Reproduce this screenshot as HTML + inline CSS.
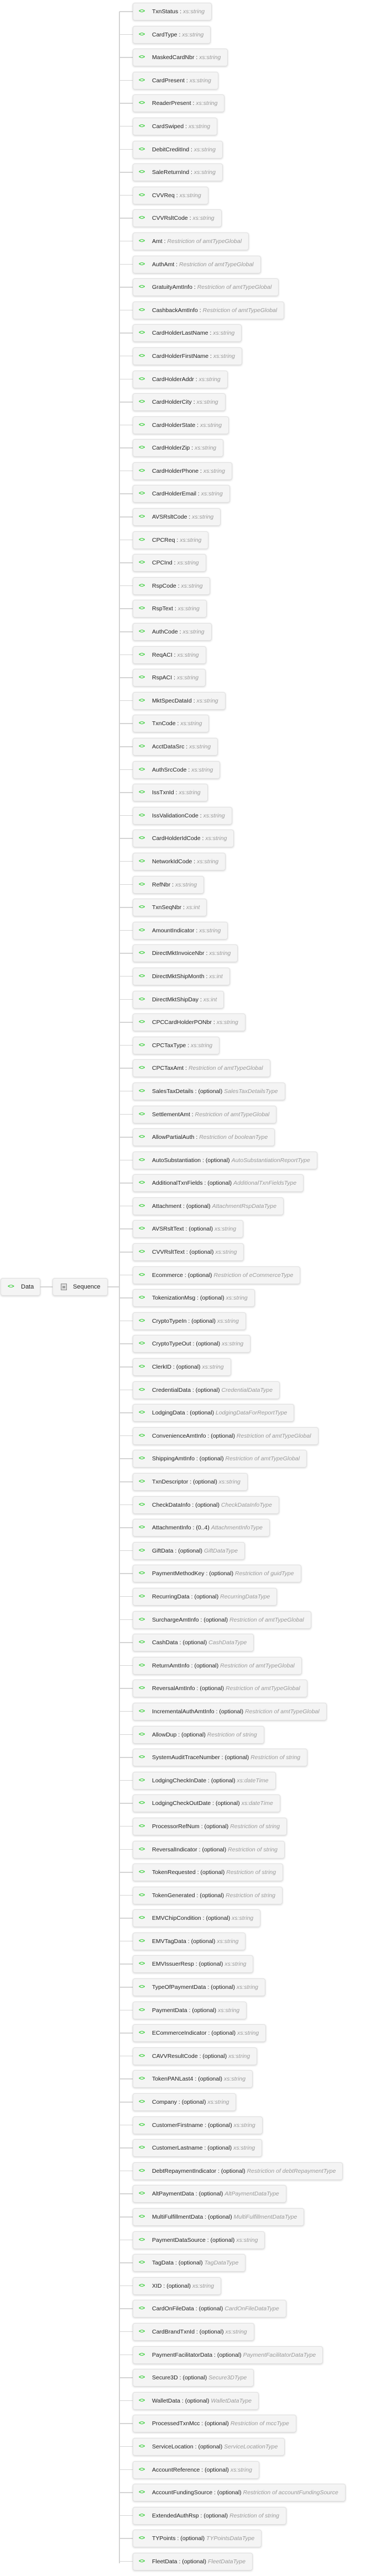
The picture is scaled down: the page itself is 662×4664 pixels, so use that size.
<!DOCTYPE html>
<html><head><meta charset="utf-8"><style>
html,body{margin:0;padding:0;background:#fff;}
body{width:662px;height:4659px;position:relative;overflow:hidden;font-family:"Liberation Sans","DejaVu Sans",sans-serif;font-size:10.5px;color:#222;}
.vl{position:absolute;left:215px;top:21px;width:2px;height:4620px;background:#d4d4d4;}
.list{position:absolute;left:0;top:5px;width:662px;}
.r{position:relative;height:41.6px;}
.r::before{content:"";position:absolute;left:216px;top:15px;width:24px;height:1.5px;background:#d4d4d4;}
.b{position:absolute;left:240px;top:0;height:30px;line-height:30px;padding:0 12px 0 34px;background:#f4f4f4;border:1px solid #e0e0e0;border-radius:4px;box-shadow:0 1px 3px rgba(0,0,0,0.18);white-space:nowrap;}
.b::before{content:"<>";position:absolute;left:10px;top:0;color:#2ecc2e;font-weight:bold;font-size:10px;letter-spacing:-0.5px;}
.t{color:#999;font-style:italic;}
.node{position:absolute;height:30px;line-height:30px;background:#f4f4f4;border:1px solid #e0e0e0;border-radius:4px;box-shadow:0 1px 3px rgba(0,0,0,0.18);font-size:11px;}
.hl{position:absolute;height:1.5px;background:#d4d4d4;}
</style></head><body>
<div class="node" style="left:1px;top:2314px;width:70px;"><span style="position:absolute;left:12px;color:#2ecc2e;font-weight:bold;font-size:10px;">&lt;&gt;</span><span style="position:absolute;left:36px;">Data</span></div>
<div class="hl" style="left:72px;top:2329px;width:23px;"></div>
<div class="node" style="left:95px;top:2314px;width:98px;"><span style="position:absolute;left:14px;top:9px;width:11px;height:12px;border:1px solid #888;background:#ddd;box-sizing:border-box;"></span><span style="position:absolute;left:17px;top:14px;width:5px;height:1px;background:#666;"></span><span style="position:absolute;left:17px;top:16px;width:5px;height:1px;background:#666;"></span><span style="position:absolute;left:36px;">Sequence</span></div>
<div class="hl" style="left:194px;top:2329px;width:22px;"></div>
<div class="vl"></div>
<div class="list">
<div class="r"><div class="b">TxnStatus : <span class="t">xs:string</span></div></div>
<div class="r"><div class="b">CardType : <span class="t">xs:string</span></div></div>
<div class="r"><div class="b">MaskedCardNbr : <span class="t">xs:string</span></div></div>
<div class="r"><div class="b">CardPresent : <span class="t">xs:string</span></div></div>
<div class="r"><div class="b">ReaderPresent : <span class="t">xs:string</span></div></div>
<div class="r"><div class="b">CardSwiped : <span class="t">xs:string</span></div></div>
<div class="r"><div class="b">DebitCreditInd : <span class="t">xs:string</span></div></div>
<div class="r"><div class="b">SaleReturnInd : <span class="t">xs:string</span></div></div>
<div class="r"><div class="b">CVVReq : <span class="t">xs:string</span></div></div>
<div class="r"><div class="b">CVVRsltCode : <span class="t">xs:string</span></div></div>
<div class="r"><div class="b">Amt : <span class="t">Restriction of amtTypeGlobal</span></div></div>
<div class="r"><div class="b">AuthAmt : <span class="t">Restriction of amtTypeGlobal</span></div></div>
<div class="r"><div class="b">GratuityAmtInfo : <span class="t">Restriction of amtTypeGlobal</span></div></div>
<div class="r"><div class="b">CashbackAmtInfo : <span class="t">Restriction of amtTypeGlobal</span></div></div>
<div class="r"><div class="b">CardHolderLastName : <span class="t">xs:string</span></div></div>
<div class="r"><div class="b">CardHolderFirstName : <span class="t">xs:string</span></div></div>
<div class="r"><div class="b">CardHolderAddr : <span class="t">xs:string</span></div></div>
<div class="r"><div class="b">CardHolderCity : <span class="t">xs:string</span></div></div>
<div class="r"><div class="b">CardHolderState : <span class="t">xs:string</span></div></div>
<div class="r"><div class="b">CardHolderZip : <span class="t">xs:string</span></div></div>
<div class="r"><div class="b">CardHolderPhone : <span class="t">xs:string</span></div></div>
<div class="r"><div class="b">CardHolderEmail : <span class="t">xs:string</span></div></div>
<div class="r"><div class="b">AVSRsltCode : <span class="t">xs:string</span></div></div>
<div class="r"><div class="b">CPCReq : <span class="t">xs:string</span></div></div>
<div class="r"><div class="b">CPCInd : <span class="t">xs:string</span></div></div>
<div class="r"><div class="b">RspCode : <span class="t">xs:string</span></div></div>
<div class="r"><div class="b">RspText : <span class="t">xs:string</span></div></div>
<div class="r"><div class="b">AuthCode : <span class="t">xs:string</span></div></div>
<div class="r"><div class="b">ReqACI : <span class="t">xs:string</span></div></div>
<div class="r"><div class="b">RspACI : <span class="t">xs:string</span></div></div>
<div class="r"><div class="b">MktSpecDataId : <span class="t">xs:string</span></div></div>
<div class="r"><div class="b">TxnCode : <span class="t">xs:string</span></div></div>
<div class="r"><div class="b">AcctDataSrc : <span class="t">xs:string</span></div></div>
<div class="r"><div class="b">AuthSrcCode : <span class="t">xs:string</span></div></div>
<div class="r"><div class="b">IssTxnId : <span class="t">xs:string</span></div></div>
<div class="r"><div class="b">IssValidationCode : <span class="t">xs:string</span></div></div>
<div class="r"><div class="b">CardHolderIdCode : <span class="t">xs:string</span></div></div>
<div class="r"><div class="b">NetworkIdCode : <span class="t">xs:string</span></div></div>
<div class="r"><div class="b">RefNbr : <span class="t">xs:string</span></div></div>
<div class="r"><div class="b">TxnSeqNbr : <span class="t">xs:int</span></div></div>
<div class="r"><div class="b">AmountIndicator : <span class="t">xs:string</span></div></div>
<div class="r"><div class="b">DirectMktInvoiceNbr : <span class="t">xs:string</span></div></div>
<div class="r"><div class="b">DirectMktShipMonth : <span class="t">xs:int</span></div></div>
<div class="r"><div class="b">DirectMktShipDay : <span class="t">xs:int</span></div></div>
<div class="r"><div class="b">CPCCardHolderPONbr : <span class="t">xs:string</span></div></div>
<div class="r"><div class="b">CPCTaxType : <span class="t">xs:string</span></div></div>
<div class="r"><div class="b">CPCTaxAmt : <span class="t">Restriction of amtTypeGlobal</span></div></div>
<div class="r"><div class="b">SalesTaxDetails : (optional) <span class="t">SalesTaxDetailsType</span></div></div>
<div class="r"><div class="b">SettlementAmt : <span class="t">Restriction of amtTypeGlobal</span></div></div>
<div class="r"><div class="b">AllowPartialAuth : <span class="t">Restriction of booleanType</span></div></div>
<div class="r"><div class="b">AutoSubstantiation : (optional) <span class="t">AutoSubstantiationReportType</span></div></div>
<div class="r"><div class="b">AdditionalTxnFields : (optional) <span class="t">AdditionalTxnFieldsType</span></div></div>
<div class="r"><div class="b">Attachment : (optional) <span class="t">AttachmentRspDataType</span></div></div>
<div class="r"><div class="b">AVSRsltText : (optional) <span class="t">xs:string</span></div></div>
<div class="r"><div class="b">CVVRsltText : (optional) <span class="t">xs:string</span></div></div>
<div class="r"><div class="b">Ecommerce : (optional) <span class="t">Restriction of eCommerceType</span></div></div>
<div class="r"><div class="b">TokenizationMsg : (optional) <span class="t">xs:string</span></div></div>
<div class="r"><div class="b">CryptoTypeIn : (optional) <span class="t">xs:string</span></div></div>
<div class="r"><div class="b">CryptoTypeOut : (optional) <span class="t">xs:string</span></div></div>
<div class="r"><div class="b">ClerkID : (optional) <span class="t">xs:string</span></div></div>
<div class="r"><div class="b">CredentialData : (optional) <span class="t">CredentialDataType</span></div></div>
<div class="r"><div class="b">LodgingData : (optional) <span class="t">LodgingDataForReportType</span></div></div>
<div class="r"><div class="b">ConvenienceAmtInfo : (optional) <span class="t">Restriction of amtTypeGlobal</span></div></div>
<div class="r"><div class="b">ShippingAmtInfo : (optional) <span class="t">Restriction of amtTypeGlobal</span></div></div>
<div class="r"><div class="b">TxnDescriptor : (optional) <span class="t">xs:string</span></div></div>
<div class="r"><div class="b">CheckDataInfo : (optional) <span class="t">CheckDataInfoType</span></div></div>
<div class="r"><div class="b">AttachmentInfo : (0..4) <span class="t">AttachmentInfoType</span></div></div>
<div class="r"><div class="b">GiftData : (optional) <span class="t">GiftDataType</span></div></div>
<div class="r"><div class="b">PaymentMethodKey : (optional) <span class="t">Restriction of guidType</span></div></div>
<div class="r"><div class="b">RecurringData : (optional) <span class="t">RecurringDataType</span></div></div>
<div class="r"><div class="b">SurchargeAmtInfo : (optional) <span class="t">Restriction of amtTypeGlobal</span></div></div>
<div class="r"><div class="b">CashData : (optional) <span class="t">CashDataType</span></div></div>
<div class="r"><div class="b">ReturnAmtInfo : (optional) <span class="t">Restriction of amtTypeGlobal</span></div></div>
<div class="r"><div class="b">ReversalAmtInfo : (optional) <span class="t">Restriction of amtTypeGlobal</span></div></div>
<div class="r"><div class="b">IncrementalAuthAmtInfo : (optional) <span class="t">Restriction of amtTypeGlobal</span></div></div>
<div class="r"><div class="b">AllowDup : (optional) <span class="t">Restriction of string</span></div></div>
<div class="r"><div class="b">SystemAuditTraceNumber : (optional) <span class="t">Restriction of string</span></div></div>
<div class="r"><div class="b">LodgingCheckInDate : (optional) <span class="t">xs:dateTime</span></div></div>
<div class="r"><div class="b">LodgingCheckOutDate : (optional) <span class="t">xs:dateTime</span></div></div>
<div class="r"><div class="b">ProcessorRefNum : (optional) <span class="t">Restriction of string</span></div></div>
<div class="r"><div class="b">ReversalIndicator : (optional) <span class="t">Restriction of string</span></div></div>
<div class="r"><div class="b">TokenRequested : (optional) <span class="t">Restriction of string</span></div></div>
<div class="r"><div class="b">TokenGenerated : (optional) <span class="t">Restriction of string</span></div></div>
<div class="r"><div class="b">EMVChipCondition : (optional) <span class="t">xs:string</span></div></div>
<div class="r"><div class="b">EMVTagData : (optional) <span class="t">xs:string</span></div></div>
<div class="r"><div class="b">EMVIssuerResp : (optional) <span class="t">xs:string</span></div></div>
<div class="r"><div class="b">TypeOfPaymentData : (optional) <span class="t">xs:string</span></div></div>
<div class="r"><div class="b">PaymentData : (optional) <span class="t">xs:string</span></div></div>
<div class="r"><div class="b">ECommerceIndicator : (optional) <span class="t">xs:string</span></div></div>
<div class="r"><div class="b">CAVVResultCode : (optional) <span class="t">xs:string</span></div></div>
<div class="r"><div class="b">TokenPANLast4 : (optional) <span class="t">xs:string</span></div></div>
<div class="r"><div class="b">Company : (optional) <span class="t">xs:string</span></div></div>
<div class="r"><div class="b">CustomerFirstname : (optional) <span class="t">xs:string</span></div></div>
<div class="r"><div class="b">CustomerLastname : (optional) <span class="t">xs:string</span></div></div>
<div class="r"><div class="b">DebtRepaymentIndicator : (optional) <span class="t">Restriction of debtRepaymentType</span></div></div>
<div class="r"><div class="b">AltPaymentData : (optional) <span class="t">AltPaymentDataType</span></div></div>
<div class="r"><div class="b">MultiFulfillmentData : (optional) <span class="t">MultiFulfillmentDataType</span></div></div>
<div class="r"><div class="b">PaymentDataSource : (optional) <span class="t">xs:string</span></div></div>
<div class="r"><div class="b">TagData : (optional) <span class="t">TagDataType</span></div></div>
<div class="r"><div class="b">XID : (optional) <span class="t">xs:string</span></div></div>
<div class="r"><div class="b">CardOnFileData : (optional) <span class="t">CardOnFileDataType</span></div></div>
<div class="r"><div class="b">CardBrandTxnId : (optional) <span class="t">xs:string</span></div></div>
<div class="r"><div class="b">PaymentFacilitatorData : (optional) <span class="t">PaymentFacilitatorDataType</span></div></div>
<div class="r"><div class="b">Secure3D : (optional) <span class="t">Secure3DType</span></div></div>
<div class="r"><div class="b">WalletData : (optional) <span class="t">WalletDataType</span></div></div>
<div class="r"><div class="b">ProcessedTxnMcc : (optional) <span class="t">Restriction of mccType</span></div></div>
<div class="r"><div class="b">ServiceLocation : (optional) <span class="t">ServiceLocationType</span></div></div>
<div class="r"><div class="b">AccountReference : (optional) <span class="t">xs:string</span></div></div>
<div class="r"><div class="b">AccountFundingSource : (optional) <span class="t">Restriction of accountFundingSource</span></div></div>
<div class="r"><div class="b">ExtendedAuthRsp : (optional) <span class="t">Restriction of string</span></div></div>
<div class="r"><div class="b">TYPoints : (optional) <span class="t">TYPointsDataType</span></div></div>
<div class="r"><div class="b">FleetData : (optional) <span class="t">FleetDataType</span></div></div>
</div>
</body></html>
